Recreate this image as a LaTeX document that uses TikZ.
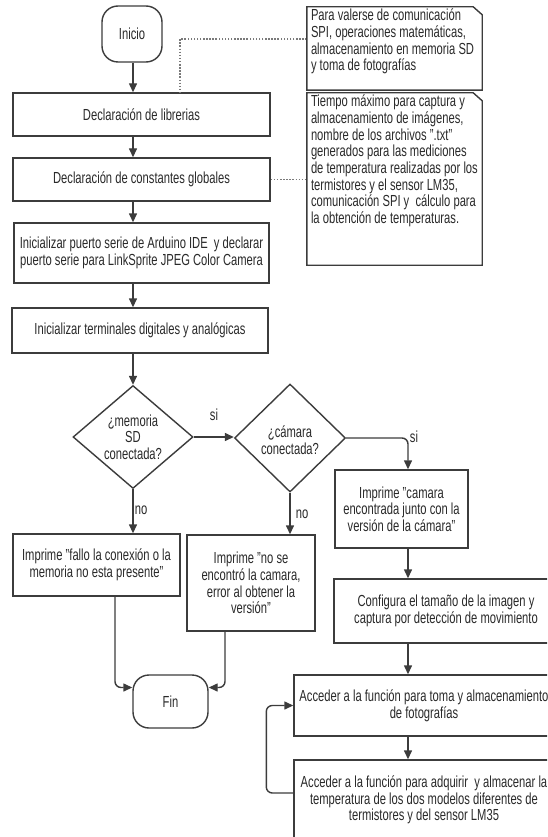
\documentclass[tikz,border=0pt]{standalone}
\usepackage{fontspec}
\setmainfont[FakeStretch=0.7]{Liberation Sans}
\usetikzlibrary{shapes.geometric,arrows.meta,calc}
\definecolor{bord}{HTML}{3C3C3C}
\definecolor{txt}{HTML}{2A2A2A}
\definecolor{dotc}{HTML}{7A7A7A}
\begin{document}
\begin{tikzpicture}[x=1pt,y=-1pt,
  every node/.style={font=\fontsize{16}{16.7}\selectfont, text=txt},
  proc/.style={draw=bord, line width=1.4pt, fill=white, align=center, inner sep=0pt},
  termbox/.style={proc, rounded corners=16pt},
  dec/.style={diamond, draw=bord, line width=1.4pt, fill=white, inner sep=0pt},
  arr/.style={draw=bord, line width=1.4pt, -{Triangle[length=9pt,width=8pt]}, rounded corners=6pt},
  notebox/.style={draw=bord, line width=1.4pt, fill=white},
  dotl/.style={draw=dotc, line width=1.3pt, dash pattern=on 1.5pt off 1.6pt},
  notetext/.style={anchor=north west, align=left, inner sep=0pt}
]
\useasboundingbox (0,0) rectangle (547,837);
\fill[white] (0,0) rectangle (547,837);
\clip (0,0) rectangle (547,837);

% helper coordinates
\coordinate (c1) at (133,0);
\coordinate (c2) at (408,0);
\coordinate (c3) at (115,0);
\coordinate (c4) at (225,0);
\coordinate (c5) at (180,0);

% main column
\node[termbox, minimum width=60pt, minimum height=56pt] (inicio) at (132,34) {Inicio};
\node[proc, minimum width=257pt, minimum height=43pt] (lib) at (141.5,114.5) {Declaración de librerias};
\node[proc, minimum width=257pt, minimum height=43pt] (const) at (141.5,179.5) {Declaración de constantes globales};
\node[proc, minimum width=255pt, minimum height=60pt] (serie) at (141.5,253) {Inicializar puerto serie de Arduino IDE\ \ y declarar\\puerto serie para LinkSprite JPEG Color Camera};
\node[proc, minimum width=256pt, minimum height=45pt] (termi) at (140,330.5) {Inicializar terminales digitales y analógicas};

% decisions
\node[dec, minimum width=120pt, minimum height=103pt] (d1) at (133,437) {};
\node[align=center, inner sep=0pt] (d1t) at (133,437) {¿memoria\\SD\\conectada?};
\node[dec, minimum width=111pt, minimum height=108pt] (d2) at (290,438) {};
\node[align=center, inner sep=0pt] (d2t) at (290,440) {¿cámara\\conectada?};

% branches
\node[proc, minimum width=167pt, minimum height=62pt] (fallo) at (96.5,565) {Imprime "fallo la conexión o la\\memoria no esta presente"};
\node[proc, minimum width=128pt, minimum height=96pt] (noenc) at (251,583) {Imprime "no se\\encontró la camara,\\error al obtener la\\versión"};
\node[proc, minimum width=133pt, minimum height=78pt] (cam) at (401.5,509) {Imprime "camara\\encontrada junto con la\\versión de la cámara"};
\node[proc, minimum width=224pt, minimum height=64pt] (conf) at (446,611) {Configura el tamaño de la imagen y\\captura por detección de movimiento};
\node[proc, minimum width=260pt, minimum height=61pt] (acc1) at (424,705.5) {Acceder a la función para toma y almacenamiento\\de fotografías};
\node[proc, minimum width=260pt, minimum height=80pt] (acc2) at (424,800) {Acceder a la función para adquirir\ \ y almacenar la\\temperatura de los dos modelos diferentes de\\termistores y del sensor LM35};
\node[termbox, minimum width=75pt, minimum height=53pt] (fin) at (170.5,701.5) {Fin};

% notes
\node[inner sep=0pt, minimum width=175pt, minimum height=83pt] (n1) at (394.5,48.5) {};
\node[inner sep=0pt, minimum width=175pt, minimum height=172pt] (n2) at (394.5,179) {};
\draw[dotl] ($(n1.west)+(0,-9.5)$) -| (lib.north -| c5);
\draw[dotl] (const.east) -- (const.east -| n2.west);
\draw[notebox] (n1.north west) -- ($(n1.north east)+(-9,0)$) -- ($(n1.north east)+(0,8)$) -- (n1.south east) -- (n1.south west) -- cycle;
\draw[notebox] (n2.north west) -- ($(n2.north east)+(-9,0)$) -- ($(n2.north east)+(0,8)$) -- (n2.south east) -- (n2.south west) -- cycle;
\node[notetext] (n1t) at ($(n1.north west)+(4,2)$) {Para valerse de comunicación\\SPI, operaciones matemáticas,\\almacenamiento en memoria SD\\y toma de fotografías};
\node[notetext] (n2t) at ($(n2.north west)+(4,2)$) {Tiempo máximo para captura y\\almacenamiento de imágenes,\\nombre de los archivos ".txt"\\generados para las mediciones\\de temperatura realizadas por los\\termistores y el sensor LM35,\\comunicación SPI y\ \ cálculo para\\la obtención de temperaturas.};

% connectors
\draw[arr] (inicio.south -| c1) -- (lib.north -| c1);
\draw[arr] (lib.south -| c1) -- (const.north -| c1);
\draw[arr] (const.south -| c1) -- (serie.north -| c1);
\draw[arr] (serie.south -| c1) -- (termi.north -| c1);
\draw[arr] (termi.south -| c1) -- (d1.north);
\draw[arr] (d1.east) -- (d1.east -| d2.west);
\draw[arr] (d1.south) -- (d1.south |- fallo.north);
\draw[arr] (d2.south) -- (d2.south |- noenc.north);
\draw[arr] (d2.east) -| (cam.north -| c2);
\draw[arr] (cam.south -| c2) -- (conf.north -| c2);
\draw[arr] (conf.south -| c2) -- (acc1.north -| c2);
\draw[arr] (acc1.south -| c2) -- (acc2.north -| c2);
\draw[arr] (fallo.south -| c3) |- ($(fin.west)+(0,-14)$);
\draw[arr] (noenc.south -| c4) |- ($(fin.east)+(0,-14)$);
\draw[arr] ($(acc2.west)+(0,-7)$) -- ++(-27,0) |- (acc1.west);

% labels
\node (l1) at (214,415) {si};
\node (l2) at (414,437) {si};
\node (l3) at (141,510) {no};
\node (l4) at (302,514) {no};
\end{tikzpicture}
\end{document}
